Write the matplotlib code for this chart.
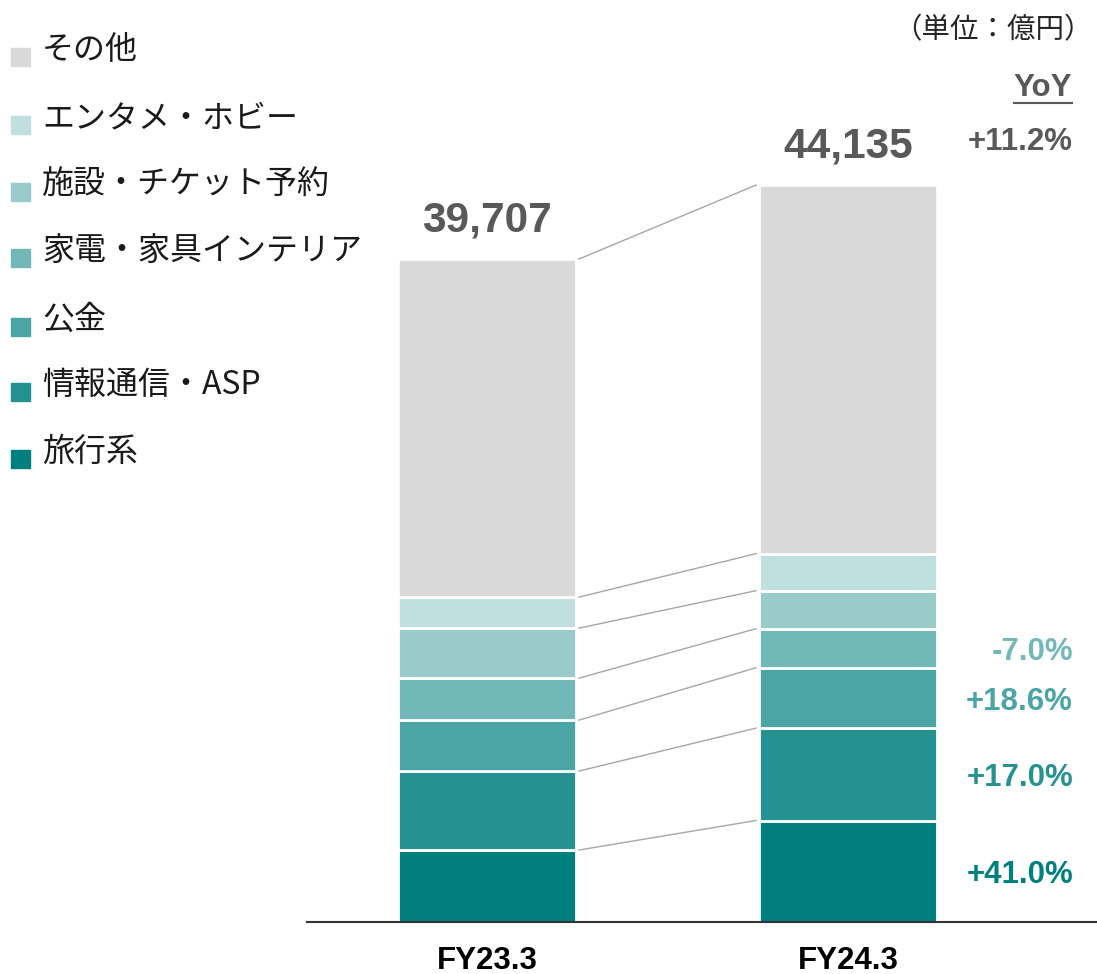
import matplotlib
matplotlib.use("Agg")
import matplotlib.pyplot as plt
from matplotlib.patches import Rectangle
import numpy as np

periods = ["FY23.3", "FY24.3"]
categories = ["旅行系", "情報通信・ASP", "公金", "家電・家具インテリア", "施設・チケット予約", "エンタメ・ホビー", "その他"]
fy23 = [4310, 4730, 3050, 2515, 2995, 1856, 20251]
fy24 = [6077, 5534, 3617, 2339, 2276, 2216, 22076]
totals = ["39,707", "44,135"]
yoy_total = "+11.2%"
yoy_labels = ["+41.0%", "+17.0%", "+18.6%", "-7.0%"]
colors = ["#007F7F", "#269191", "#4BA5A5", "#72B8B8", "#9ACBCB", "#C0E0DF", "#D9D9D9"]

W, H = 1097, 974
fig = plt.figure(figsize=(W / 100, H / 100), dpi=100)
ax = fig.add_axes([307 / W, 1 - 922 / H, 790 / W, 922 / H])

scale = 59.89  # value per pixel
ax.set_ylim(0, 922 * scale)
ax.set_xlim(-180 / 361, 610 / 361)
bw = 178 / 361

data = np.array([fy23, fy24], dtype=float)
x = np.arange(2)
bottoms = np.zeros(2)
for i, cat in enumerate(categories):
    ax.bar(x, data[:, i], bottom=bottoms, width=bw, color=colors[i],
           edgecolor="white", linewidth=2, zorder=2)
    bottoms = bottoms + data[:, i]

# connector lines
cum = np.cumsum(data, axis=1)
gap = 3 / 361
for i in range(len(categories)):
    ax.plot([0 + bw / 2 + gap, 1 - bw / 2 - gap], [cum[0, i], cum[1, i]],
            color="#A6A6A6", lw=1, zorder=1)

num_font = "Liberation Sans"
jp_font = ["Noto Sans CJK JP", "DejaVu Sans"]

# totals
for xi, t, tot in zip(x, totals, cum[:, -1]):
    ax.annotate(t, (xi, tot), xytext=(0, 28), textcoords="offset points",
                ha="center", va="center", fontsize=30.5, fontweight="bold",
                color="#595959", family=num_font)

# YoY labels
xr = (1073 - 487) / 361
ax.annotate(yoy_total, (xr, cum[1, -1]), xytext=(0, 31), textcoords="offset points",
            ha="right", va="center", fontsize=22.5, fontweight="bold",
            color="#595959", family=num_font)
mids = cum[1, :4] - data[1, :4] / 2
for i, (lab, m) in enumerate(zip(yoy_labels, mids)):
    ax.annotate(lab, (xr, m), xytext=(0, -3), textcoords="offset points",
                ha="right", va="center", fontsize=22.5, fontweight="bold",
                color=colors[i], family=num_font)

# YoY header
fig.text(1072 / W, 1 - 88 / H, "YoY", ha="right", va="center", fontsize=22.5,
         fontweight="bold", color="#595959", family=num_font)
fig.add_artist(plt.Line2D([1014 / W, 1072 / W], [1 - 103 / H, 1 - 103 / H],
                          color="#595959", lw=1.5))

# unit
fig.text(1093 / W, 1 - 30 / H, "（単位：億円）", ha="right", va="center",
         fontsize=20.5, color="#262626", family=jp_font)

# axis styling
for s in ["top", "right", "left"]:
    ax.spines[s].set_visible(False)
ax.spines["bottom"].set_color("#333333")
ax.spines["bottom"].set_linewidth(1.5)
ax.set_yticks([])
ax.set_xticks(x)
ax.set_xticklabels(periods, fontsize=22.5, fontweight="bold", family=num_font, color="black")
ax.tick_params(axis="x", length=0, pad=17)

# legend (manual)
row_y = [50, 118, 185, 251, 320, 385, 452]
for i, cat in enumerate(reversed(categories)):
    ci = len(categories) - 1 - i
    yc = row_y[i]
    fig.add_artist(Rectangle((11 / W, 1 - (yc + 16) / H), 19 / W, 18 / H,
                             transform=fig.transFigure, color=colors[ci]))
    fig.text(42 / W, 1 - yc / H, cat, ha="left", va="center", fontsize=23,
             color="#1A1A1A", family=jp_font)

fig.savefig("out.png", dpi=100)
